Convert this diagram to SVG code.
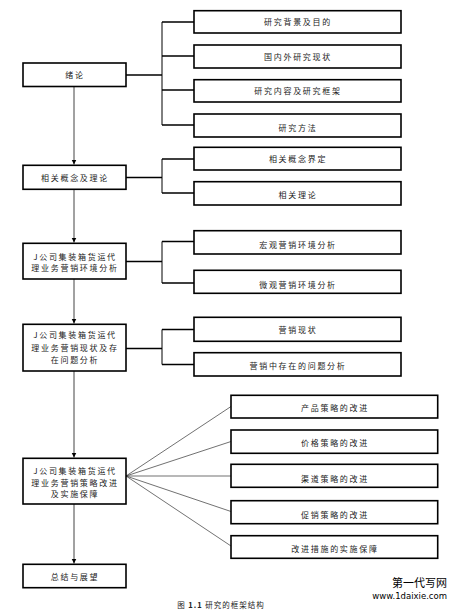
<svg xmlns="http://www.w3.org/2000/svg" width="458" height="610" viewBox="0 0 458 610">
<defs>
<style>
.box{fill:#fff;stroke:#000;stroke-width:1.6}
.t{font-family:"Noto Sans CJK SC","Noto Sans",sans-serif;font-size:8px;letter-spacing:1.7px;fill:#222;text-anchor:middle}
.br{fill:none;stroke:#000;stroke-width:1}
.bh{fill:none;stroke:#000;stroke-width:1.6}
.ar{fill:none;stroke:#444;stroke-width:1}
.fan{fill:none;stroke:#333;stroke-width:0.7}
</style>
<marker id="ah" markerWidth="6" markerHeight="6" refX="5" refY="3" orient="auto" markerUnits="userSpaceOnUse">
<path d="M0,0.5 L5,3 L0,5.5 Z" fill="#000"/>
</marker>
</defs>
<rect width="458" height="610" fill="#fff"/>

<g id="connectors">
<path class="ar" d="M74,87 V164.5" marker-end="url(#ah)"/>
<path class="ar" d="M74,189.5 V242.5" marker-end="url(#ah)"/>
<path class="ar" d="M74,279 V323.5" marker-end="url(#ah)"/>
<path class="ar" d="M74,371 V457.5" marker-end="url(#ah)"/>
<path class="ar" d="M74,504 V563.5" marker-end="url(#ah)"/>
<path class="bh" d="M126,75 H162"/>
<path class="br" d="M162,22 V125"/>
<path class="bh" d="M162,22 H194 M162,56 H194 M162,90 H194 M162,125 H194"/>
<path class="bh" d="M126,177.5 H162"/>
<path class="br" d="M162,159 V193"/>
<path class="bh" d="M162,159 H194 M162,193 H194"/>
<path class="bh" d="M126,261.5 H162"/>
<path class="br" d="M162,241.5 V283"/>
<path class="bh" d="M162,241.5 H194 M162,283 H194"/>
<path class="bh" d="M126,348.5 H162"/>
<path class="br" d="M162,329.5 V364.5"/>
<path class="bh" d="M162,329.5 H194 M162,364.5 H194"/>
<path class="fan" d="M126,476 L231,406.5 M126,476 L231,441.5 M126,476 L231,476 M126,476 L231,511.5 M126,476 L231,546"/>
</g>

<g id="n1"><rect class="box" x="23" y="63" width="103" height="23.5"/><text class="t" x="75" y="78">绪论</text></g>
<g id="n1a"><rect class="box" x="194" y="10.7" width="207" height="22.3"/><text class="t" x="298" y="25">研究背景及目的</text></g>
<g id="n1b"><rect class="box" x="194" y="45" width="207" height="23"/><text class="t" x="298" y="59.5">国内外研究现状</text></g>
<g id="n1c"><rect class="box" x="194" y="79.7" width="207" height="22.3"/><text class="t" x="298" y="94">研究内容及研究框架</text></g>
<g id="n1d"><rect class="box" x="194" y="114" width="207" height="23"/><text class="t" x="298" y="131">研究方法</text></g>

<g id="n2"><rect class="box" x="23" y="165.3" width="103" height="24"/><text class="t" x="75" y="180.5">相关概念及理论</text></g>
<g id="n2a"><rect class="box" x="194" y="147.3" width="207" height="22.7"/><text class="t" x="298" y="162">相关概念界定</text></g>
<g id="n2b"><rect class="box" x="194" y="181.7" width="207" height="23.3"/><text class="t" x="298" y="198">相关理论</text></g>

<g id="n3"><rect class="box" x="23" y="243.3" width="103" height="35.7"/><text class="t" x="75" y="260">J公司集装箱货运代</text><text class="t" x="75" y="270.5">理业务营销环境分析</text></g>
<g id="n3a"><rect class="box" x="194" y="230.7" width="207" height="23.3"/><text class="t" x="298" y="248">宏观营销环境分析</text></g>
<g id="n3b"><rect class="box" x="194" y="270.3" width="207" height="23"/><text class="t" x="298" y="288">微观营销环境分析</text></g>

<g id="n4"><rect class="box" x="23" y="324.3" width="103" height="46.7"/><text class="t" x="75" y="337.5">J公司集装箱货运代</text><text class="t" x="75" y="351">理业务营销现状及存</text><text class="t" x="75" y="363">在问题分析</text></g>
<g id="n4a"><rect class="box" x="194" y="317.3" width="207" height="24"/><text class="t" x="298" y="332.5">营销现状</text></g>
<g id="n4b"><rect class="box" x="194" y="352.7" width="207" height="23.3"/><text class="t" x="298" y="368.5">营销中存在的问题分析</text></g>

<g id="n5"><rect class="box" x="23" y="458.3" width="103" height="45.7"/><text class="t" x="75" y="474">J公司集装箱货运代</text><text class="t" x="75" y="486">理业务营销策略改进</text><text class="t" x="75" y="497">及实施保障</text></g>
<g id="n5a"><rect class="box" x="231" y="395.3" width="206.7" height="22.7"/><text class="t" x="335" y="411">产品策略的改进</text></g>
<g id="n5b"><rect class="box" x="231" y="430" width="206.7" height="23.3"/><text class="t" x="335" y="446">价格策略的改进</text></g>
<g id="n5c"><rect class="box" x="231" y="464.3" width="206.7" height="23"/><text class="t" x="335" y="482">渠道策略的改进</text></g>
<g id="n5d"><rect class="box" x="231" y="500.7" width="206.7" height="23"/><text class="t" x="335" y="518">促销策略的改进</text></g>
<g id="n5e"><rect class="box" x="231" y="535.7" width="206.7" height="22.6"/><text class="t" x="335" y="552">改进措施的实施保障</text></g>

<g id="n6"><rect class="box" x="23" y="564.3" width="103" height="23.4"/><text class="t" x="75" y="580">总结与展望</text></g>

<text class="t" x="221" y="607.5" style="font-size:7.5px;letter-spacing:1px">图 <tspan font-weight="bold">1.1</tspan> 研究的框架结构</text>
<text x="447" y="587" style="font-family:'Noto Sans CJK SC',sans-serif;font-size:11px;fill:#000;text-anchor:end">第一代写网</text>
<text x="447" y="599" style="font-family:'DejaVu Sans',sans-serif;font-size:8.5px;fill:#000;text-anchor:end">www.1daixie.com</text>
</svg>
